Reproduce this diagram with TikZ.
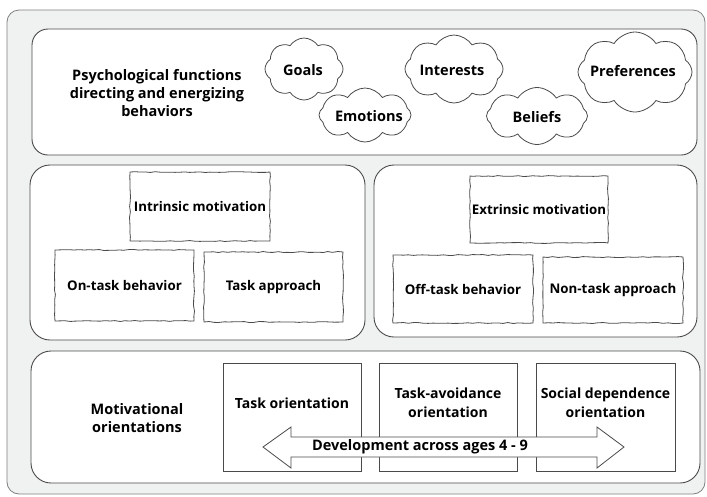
\documentclass[tikz,border=0pt]{standalone}
\usepackage{fontspec}
\setmainfont{Open Sans}
\usetikzlibrary{shapes.symbols,decorations.pathmorphing}
\definecolor{bgray}{HTML}{F0F1F1}
\definecolor{lgray}{HTML}{4A4A4A}
\tikzset{
  panel/.style={draw=lgray, line width=0.9pt, fill=white, rounded corners=16pt, inner sep=0pt},
  sketchbox/.style={draw=lgray, line width=0.8pt, fill=white, inner sep=0pt,
     decorate, decoration={random steps, segment length=5pt, amplitude=0.5pt},
     font=\fontsize{13.3}{16}\selectfont\bfseries, align=center},
  plainbox/.style={draw=lgray, line width=0.8pt, fill=white, inner sep=0pt},
  puff/.style={cloud, cloud puffs=8, cloud puff arc=115, draw=lgray, line width=0.8pt, fill=white, inner sep=0pt},
  pufftext/.style={font=\fontsize{14.5}{16}\selectfont\bfseries, inner sep=0pt},
  label/.style={font=\fontsize{14.5}{18}\selectfont\bfseries, align=center, inner sep=0pt},
  olabel/.style={font=\fontsize{14}{19}\selectfont\bfseries, align=center, inner sep=0pt}
}
\begin{document}
\begin{tikzpicture}[x=1pt,y=-1pt]
\useasboundingbox (0,0) rectangle (707,496);
\draw[draw=lgray!70, line width=0.8pt, fill=bgray, rounded corners=12pt] (7,10) rectangle (705,494);

% top panel
\node[panel, minimum width=665pt, minimum height=126pt] (top) at (364.5,92) {};
\node[label] (psy) at (157,93) {Psychological functions\\directing and energizing\\behaviors};
\node[puff, minimum width=78pt, minimum height=62pt] (goals) at (304,69) {};
\node[puff, minimum width=92pt, minimum height=54pt] (emo) at (365,115) {};
\node[puff, minimum width=98pt, minimum height=68pt] (int) at (454,69) {};
\node[puff, minimum width=101pt, minimum height=57pt] (bel) at (537,116) {};
\node[puff, minimum width=114pt, minimum height=80pt] (pref) at (635,72) {};
\node[pufftext] (goalst) at (303,70) {Goals};
\node[pufftext] (emot) at (369,116) {Emotions};
\node[pufftext] (intt) at (452,70) {Interests};
\node[pufftext] (belt) at (537,117) {Beliefs};
\node[pufftext] (preft) at (633,71) {Preferences};

% middle left panel
\node[panel, rounded corners=20pt, minimum width=335pt, minimum height=175pt] (left) at (197.5,252.5) {};
\node[sketchbox, minimum width=140pt, minimum height=69pt] (intr) at (200,206.5) {Intrinsic motivation};
\node[sketchbox, minimum width=139pt, minimum height=71pt] (ontask) at (124.5,285.5) {On-task behavior};
\node[sketchbox, minimum width=139pt, minimum height=70pt] (tapp) at (273.5,287) {Task approach};

% middle right panel
\node[panel, rounded corners=20pt, minimum width=323pt, minimum height=172pt] (right) at (535.5,251) {};
\node[sketchbox, minimum width=138pt, minimum height=67pt] (extr) at (539,209.5) {Extrinsic motivation};
\node[sketchbox, minimum width=140pt, minimum height=68pt] (offtask) at (463,289) {Off-task behavior};
\node[sketchbox, minimum width=140pt, minimum height=66pt] (ntapp) at (613,290) {Non-task approach};

% bottom panel
\node[panel, rounded corners=20pt, minimum width=669pt, minimum height=132pt] (bottom) at (365.5,417) {};
\node[label] (mot) at (137,418.5) {Motivational\\orientations};
\node[plainbox, minimum width=138pt, minimum height=108pt] (torient) at (292,417) {};
\node[plainbox, minimum width=138pt, minimum height=108pt] (tavoid) at (448,417) {};
\node[plainbox, minimum width=139pt, minimum height=108pt] (social) at (605.5,417) {};
\node[olabel] (tot) at (292,403) {Task orientation};
\node[olabel] (tat) at (448,402.5) {Task-avoidance\\orientation};
\node[olabel] (sot) at (605.5,402.5) {Social dependence\\orientation};

% development arrow
\draw[draw=lgray, line width=0.8pt, fill=white, line join=miter]
  (263,447) -- (291,427) -- (291,437) -- (597,437) -- (597,427) -- (624,447)
  -- (597,468) -- (597,457) -- (291,457) -- (291,468) -- cycle;
\node[label, font=\fontsize{14.5}{15}\selectfont\bfseries] (dev) at (420,447) {Development across ages 4 - 9};
\end{tikzpicture}
\end{document}
